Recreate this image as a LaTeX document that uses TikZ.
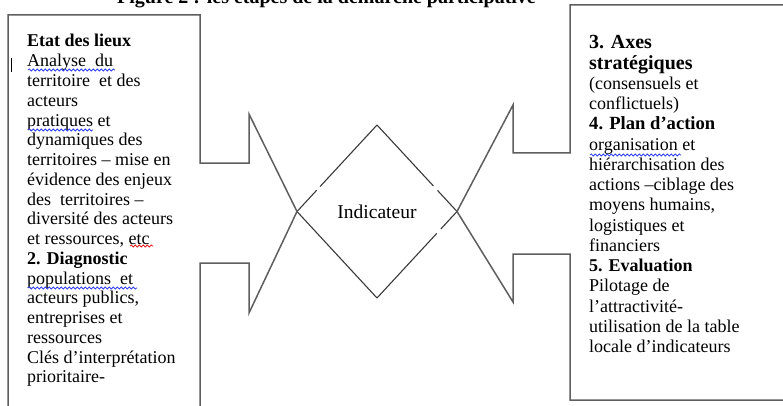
\documentclass[tikz,border=0pt]{standalone}
\usepackage{fontspec}
\setmainfont{Liberation Serif}
\usetikzlibrary{shapes.geometric,decorations.pathmorphing}
\definecolor{wblue}{HTML}{3344EE}
\definecolor{wred}{HTML}{E02020}
\definecolor{boxline}{HTML}{5E5E5E}
\definecolor{dline}{HTML}{3A3A3A}
\begin{document}
\begin{tikzpicture}[x=1pt,y=-1pt,
  boxoutline/.style={draw=boxline,line width=1.5pt,line join=miter},
  diaedge/.style={draw=dline,line width=1.1pt},
  bodytext/.style={inner sep=0pt,anchor=base west,text=black},
  wave/.style={line width=0.8pt,decorate,decoration={snake,segment length=4pt,amplitude=1pt}}]
\useasboundingbox (0,0) rectangle (783,406);
\clip (0,0) rectangle (783,406);
\fill[white] (0,0) rectangle (783,406);

% title (cut at the top)
\node[inner sep=0pt,anchor=base west,font=\fontsize{20}{24}\selectfont\bfseries] (title) at (117,4) {Figure 2 : les étapes de la démarche participative};

% central diamond
\node[shape=diamond,inner sep=0pt,outer sep=0pt,minimum width=160pt,minimum height=173pt,
      font=\fontsize{19.5}{22}\selectfont] (ind) at (377,211.5) {Indicateur};
\draw[diaedge,dash pattern=on 29pt off 5pt on 300pt] (ind.west) -- (ind.north);
\draw[diaedge,dash pattern=on 83pt off 6pt on 300pt] (ind.north) -- (ind.east);
\draw[diaedge,dash pattern=on 88pt off 6pt on 300pt] (ind.south) -- (ind.east);
\draw[diaedge] (ind.south) -- (ind.west);

% left callout
\draw[boxoutline] (8,420) -- (8,15) -- (200,15) -- (200,163) -- (249,163) -- (249,114)
   -- (ind.west) -- (249,313) -- (249,263) -- (200,263) -- (200,420);

% right callout
\draw[boxoutline] (800,5) -- (570,5) -- (570,153) -- (513,153) -- (513,105)
   -- (ind.east) -- (513,302) -- (513,254) -- (570,254) -- (570,400) -- (800,400);

% text cursor mark
\draw[black,line width=1pt] (11.5,58) -- (11.5,72);

\node[bodytext] (lefttext) at (27,47) {\parbox[t]{180pt}{\fontsize{18}{19.76}\selectfont
\textbf{Etat des lieux}\\
Analyse\ \ du\\
territoire\ \ et des\\
acteurs\\
pratiques et\\
dynamiques des\\
territoires – mise en\\
évidence des enjeux\\
des\ \ territoires –\\
diversité des acteurs\\
et ressources, etc\\
\textbf{2. Diagnostic}\\
populations\ \ et\\
acteurs publics,\\
entreprises et\\
ressources\\
Clés d’interprétation\\
prioritaire-}};

\node[bodytext] (righttext) at (589,49) {\parbox[t]{190pt}{\fontsize{18}{20.25}\selectfont
{\fontsize{20}{20.25}\selectfont\bfseries 3. Axes}\\
{\fontsize{20}{20.25}\selectfont\bfseries stratégiques}\\
(consensuels et\\
conflictuels)\\
{\fontsize{18.6}{20.25}\selectfont\bfseries 4. Plan d’action}\\
organisation et\\
hiérarchisation des\\
actions –ciblage des\\
moyens humains,\\
logistiques et\\
financiers\\
\textbf{5. Evaluation}\\
Pilotage de\\
l’attractivité-\\
utilisation de la table\\
locale d’indicateurs}};

% spell-check wavy underlines
\draw[wave,wblue] (28,70) -- (115,70);
\draw[wave,wblue] (28,130) -- (93,130);
\draw[wave,wred] (130,246) -- (153,246);
\draw[wave,wblue] (28,288) -- (137,288);
\draw[wave,wblue] (590,155) -- (681,155);
\end{tikzpicture}
\end{document}
